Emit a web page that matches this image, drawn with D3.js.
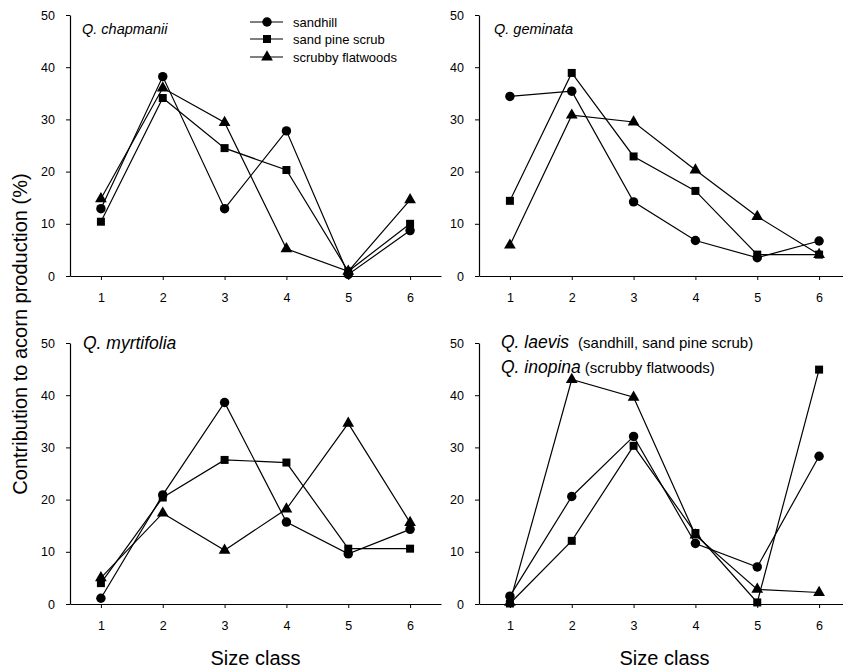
<!DOCTYPE html>
<html>
<head>
<meta charset="utf-8">
<script src="https://cdn.jsdelivr.net/npm/d3@7"></script>
<style>
html,body{margin:0;padding:0;background:#fff;}
text{font-family:"Liberation Sans",Arial,Helvetica,sans-serif;fill:#000;}
</style>
</head>
<body>
<svg id="chart" width="843" height="670"></svg>
<script>
const sizeClasses = [1, 2, 3, 4, 5, 6];
const seriesNames = ["sandhill", "sand pine scrub", "scrubby flatwoods"];
const yTicks = [0, 10, 20, 30, 40, 50];

// Q. chapmanii
const chapmaniiSandhill = [12.9, 38.2, 12.9, 27.8, 0.3, 8.7];
const chapmaniiSandPine = [10.4, 34.1, 24.5, 20.3, 0.9, 10.0];
const chapmaniiFlatwoods = [14.8, 36.0, 29.4, 5.2, 0.9, 14.6];
// Q. geminata
const geminataSandhill = [34.4, 35.4, 14.2, 6.8, 3.5, 6.7];
const geminataSandPine = [14.4, 38.9, 22.9, 16.3, 4.1, 4.1];
const geminataFlatwoods = [5.9, 30.8, 29.5, 20.3, 11.4, 4.1];
// Q. myrtifolia
const myrtifoliaSandhill = [1.1, 20.9, 38.6, 15.7, 9.6, 14.3];
const myrtifoliaSandPine = [4.0, 20.4, 27.6, 27.1, 10.6, 10.6];
const myrtifoliaFlatwoods = [5.0, 17.4, 10.3, 18.2, 34.6, 15.6];
// Q. laevis / Q. inopina
const laevisSandhill = [1.5, 20.6, 32.1, 11.6, 7.1, 28.3];
const laevisSandPine = [0.1, 12.1, 30.3, 13.6, 0.3, 44.9];
const inopinaFlatwoods = [0.3, 43.0, 39.6, 13.2, 2.8, 2.2];

const panels = [
  {title: [["Q. chapmanii", ""]], series: [chapmaniiSandhill, chapmaniiSandPine, chapmaniiFlatwoods], col: 0, row: 0},
  {title: [["Q. geminata", ""]], series: [geminataSandhill, geminataSandPine, geminataFlatwoods], col: 1, row: 0},
  {title: [["Q. myrtifolia", ""]], series: [myrtifoliaSandhill, myrtifoliaSandPine, myrtifoliaFlatwoods], col: 0, row: 1},
  {title: [["Q. laevis", "(sandhill, sand pine scrub)"], ["Q. inopina", "(scrubby flatwoods)"]], series: [laevisSandhill, laevisSandPine, inopinaFlatwoods], col: 1, row: 1}
];

const svg = d3.select("#chart");
const colX = [70, 479];
const plotW = 371;
const rowY = [[276, 15], [604, 343]];
const titleStyle = [
  {size: 14.5, dx: [12, 15], dy: 19},
  {size: 17.5, dx: [13, 22], dy: 6}
];

const symbolTypes = [d3.symbolCircle, d3.symbolSquare, d3.symbolTriangle];
const symbolSizes = [70, 64, 60];

panels.forEach(p => {
  const x = d3.scaleLinear().domain([0.5, 6.5]).range([colX[p.col], colX[p.col] + plotW]);
  const y = d3.scaleLinear().domain([0, 50]).range(rowY[p.row]);
  const g = svg.append("g");

  const xAxis = d3.axisBottom(x).tickValues(sizeClasses).tickSize(4).tickSizeOuter(0).tickPadding(13).tickFormat(d3.format("d"));
  const gx = g.append("g").attr("transform", `translate(0,${y(0)})`).call(xAxis);
  gx.selectAll("text").style("font-size", "12.5px");
  gx.select(".domain").attr("stroke-width", 1.2);

  const yAxis = d3.axisLeft(y).tickValues(yTicks).tickSize(4).tickSizeOuter(0).tickPadding(11);
  const gy = g.append("g").attr("transform", `translate(${x(0.5)},0)`).call(yAxis);
  gy.selectAll("text").style("font-size", "12.5px");
  gy.select(".domain").attr("stroke-width", 1.2);

  const line = d3.line().x((d, i) => x(sizeClasses[i])).y(d => y(d));
  p.series.forEach((vals, si) => {
    g.append("path").attr("d", line(vals)).attr("fill", "none").attr("stroke", "#000").attr("stroke-width", 1.2);
  });
  p.series.forEach((vals, si) => {
    g.selectAll(null).data(vals).enter().append("path")
      .attr("d", d3.symbol().type(symbolTypes[si]).size(symbolSizes[si]))
      .attr("transform", (d, i) => `translate(${x(sizeClasses[i])},${y(d)})`)
      .attr("fill", "#000");
  });

  const ts = titleStyle[p.row];
  const dxBase = p.title.length > 1 ? ts.dx[1] : (p.col === 0 ? ts.dx[0] : ts.dx[0] + 3);
  const dyBase = p.title.length > 1 ? 5 : ts.dy;
  p.title.forEach((t, ti) => {
    const tx = g.append("text").attr("x", x(0.5) + dxBase).attr("y", y(50) + dyBase + ti * 25)
      .style("font-size", ts.size + "px");
    tx.append("tspan").style("font-style", "italic").text(t[0]);
    if (t[1]) tx.append("tspan").attr("dx", ti === 0 ? 9 : 4).style("font-size", "15px").text(t[1]);
  });

  if (p.row === 1) {
    g.append("text").attr("x", (x.range()[0] + x.range()[1]) / 2).attr("y", 665)
      .attr("text-anchor", "middle").style("font-size", "20px").text("Size class");
  }
});

// y-axis label
svg.append("text").attr("transform", "translate(20,334) rotate(-90)")
  .attr("text-anchor", "middle").attr("dominant-baseline", "central")
  .style("font-size", "20px").text("Contribution to acorn production (%)");

// legend
const legend = svg.append("g");
const legendY = [22, 39, 57];
seriesNames.forEach((name, i) => {
  legend.append("line").attr("x1", 250).attr("x2", 283).attr("y1", legendY[i]).attr("y2", legendY[i])
    .attr("stroke", "#000").attr("stroke-width", 1.2);
  legend.append("path").attr("d", d3.symbol().type(symbolTypes[i]).size(symbolSizes[i]))
    .attr("transform", `translate(267,${legendY[i]})`).attr("fill", "#000");
  legend.append("text").attr("x", 293).attr("y", legendY[i]).attr("dominant-baseline", "central")
    .style("font-size", "13px").text(name);
});
</script>
</body>
</html>
